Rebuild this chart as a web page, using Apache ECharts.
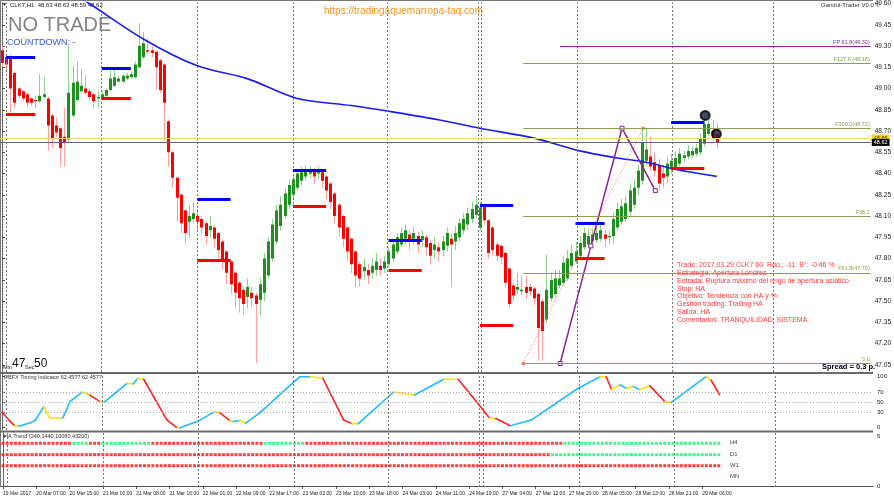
<!DOCTYPE html>
<html><head><meta charset="utf-8">
<script src="https://cdn.jsdelivr.net/npm/echarts@6/dist/echarts.min.js"></script>
<style>html,body{margin:0;padding:0;background:#fff}#c{width:894px;height:500px}</style>
</head><body><div id="c"></div>
<script>
// ---------- DATA ----------
const xLabels = ['19 Mar 2017','20 Mar 07:00','20 Mar 15:00','21 Mar 00:00','21 Mar 08:00','21 Mar 16:00','22 Mar 01:00','22 Mar 09:00','22 Mar 17:00','23 Mar 02:00','23 Mar 10:00','23 Mar 18:00','24 Mar 03:00','24 Mar 11:00','24 Mar 19:00','27 Mar 04:00','27 Mar 12:00','27 Mar 20:00','28 Mar 05:00','28 Mar 13:00','28 Mar 21:00','29 Mar 06:00'];
const yTicks = [47.05,47.20,47.35,47.50,47.65,47.80,47.95,48.10,48.25,48.40,48.55,48.70,48.85,49.00,49.15,49.30,49.45,49.60];

const haOpen  = [49.27,49.22,49.22,49.11,49.00,48.98,48.96,48.93,48.92,48.91,48.94,48.93,48.81,48.74,48.72,48.66,48.64,48.81,48.92,48.98,49.00,48.98,48.96,48.93,48.93,48.95,48.99,49.02,49.05,49.05,49.07,49.08,49.08,49.15,49.22,49.27,49.27,49.26,49.20,49.17,48.77,48.55,48.37,
48.25,48.14,48.06,48.08,48.10,48.08,48.05,48.00,48.02,47.98,47.92,47.85,47.78,47.70,47.63,47.58,47.53,47.56,47.54,47.51,47.56,47.68,47.80,47.92,48.03,48.10,48.18,48.25,48.30,48.35,48.38,48.40,48.42,48.40,48.41,48.38,48.33,48.26,48.18,48.10,48.02,47.94,47.85,47.76,47.71,47.72,47.70,47.72,47.75,47.73,47.76,47.80,47.85,47.90,47.94,47.97,47.94,47.96,47.93,47.95,47.91,47.86,47.88,47.86,47.89,47.94,47.92,47.95,48.00,48.04,48.08,48.11,
48.02,48.17,48.07,48.02,47.90,47.89,47.84,47.73,47.61,47.58,47.57,47.60,47.60,47.59,47.55,47.50,47.37,47.52,47.55,47.61,47.63,47.66,47.75,47.78,47.82,47.88,47.90,47.92,47.93,47.94,47.97,47.95,47.96,48.02,48.06,48.08,48.13,48.18,48.30,48.35,48.49,48.52,48.48,48.46,48.40,48.38,48.44,48.44,48.47,48.51,48.52,48.53,48.54,48.55,48.61,48.68,48.70,48.68];
const haClose = [49.18,49.17,49.00,48.90,48.95,48.93,48.90,48.90,48.91,48.95,48.96,48.74,48.65,48.69,48.58,48.62,48.97,49.04,49.05,49.02,48.97,48.94,48.91,48.94,48.96,48.99,49.07,49.08,49.07,49.09,49.09,49.10,49.17,49.30,49.32,49.26,49.25,49.15,48.99,48.90,48.55,48.37,48.23,
48.05,47.98,48.10,48.12,48.06,48.02,47.96,48.03,47.94,47.86,47.78,47.70,47.62,47.56,47.52,47.48,47.60,47.52,47.48,47.62,47.80,47.92,48.04,48.14,48.18,48.26,48.32,48.36,48.40,48.41,48.42,48.43,48.38,48.42,48.35,48.28,48.20,48.10,48.02,47.94,47.85,47.76,47.68,47.66,47.74,47.68,47.75,47.78,47.72,47.78,47.85,47.90,47.95,47.98,48.00,47.92,47.98,47.90,47.96,47.88,47.82,47.90,47.85,47.92,47.98,47.90,47.98,48.05,48.08,48.12,48.15,48.18,
48.16,48.07,47.84,47.86,47.82,47.81,47.63,47.48,47.54,47.60,47.58,47.56,47.57,47.52,47.31,47.29,47.58,47.65,47.66,47.66,47.77,47.80,47.84,47.85,47.91,47.98,47.96,47.97,47.98,48.00,47.94,47.96,48.08,48.15,48.17,48.19,48.28,48.30,48.42,48.62,48.57,48.45,48.42,48.33,48.37,48.47,48.49,48.51,48.54,48.53,48.56,48.56,48.58,48.65,48.75,48.75,48.65,48.62];
const haHigh  = [49.30,49.24,49.24,49.12,49.01,48.99,48.97,48.94,48.95,49.10,49.08,48.94,48.82,48.79,48.73,48.86,49.30,49.16,49.19,49.14,49.10,49.00,48.97,48.99,48.98,49.00,49.14,49.13,49.09,49.10,49.11,49.12,49.19,49.46,49.40,49.35,49.30,49.27,49.21,49.18,48.78,48.56,48.38,
48.26,48.15,48.18,48.20,48.15,48.10,48.06,48.10,48.03,47.99,47.93,47.86,47.79,47.71,47.64,47.60,47.66,47.60,47.56,47.66,47.84,47.95,48.08,48.18,48.24,48.30,48.36,48.40,48.43,48.45,48.46,48.45,48.44,48.45,48.43,48.39,48.34,48.27,48.19,48.11,48.03,47.95,47.86,47.78,47.80,47.76,47.80,47.84,47.80,47.82,47.88,47.93,47.98,48.02,48.04,48.00,48.02,47.99,48.00,47.97,47.93,47.95,47.92,47.96,48.02,47.98,48.03,48.08,48.12,48.16,48.20,48.24,
48.20,48.19,48.08,48.03,47.92,47.90,47.85,47.74,47.63,47.70,47.68,47.68,47.62,47.60,47.56,47.51,47.83,47.70,47.72,47.72,47.82,47.86,47.90,47.92,47.96,48.02,48.01,48.01,48.02,48.04,48.00,48.00,48.12,48.20,48.22,48.24,48.33,48.36,48.46,48.72,48.72,48.66,48.55,48.50,48.46,48.52,48.54,48.56,48.58,48.56,48.60,48.59,48.61,48.68,48.81,48.80,48.78,48.76];
const haLow   = [49.15,49.12,48.83,48.86,48.93,48.91,48.87,48.88,48.86,48.90,48.93,48.56,48.58,48.66,48.45,48.45,48.62,48.80,48.91,48.97,48.96,48.92,48.86,48.86,48.92,48.94,48.98,49.01,49.04,49.04,49.06,49.07,49.07,49.14,49.21,49.24,49.22,48.99,48.97,48.65,48.45,48.30,48.06,
47.98,47.90,47.95,48.05,48.00,47.97,47.90,47.95,47.88,47.80,47.72,47.62,47.55,47.45,47.42,47.40,47.45,47.46,47.06,47.40,47.50,47.66,47.78,47.90,48.00,48.08,48.15,48.22,48.28,48.32,48.35,48.37,48.33,48.36,48.30,48.22,48.15,48.05,47.96,47.88,47.78,47.70,47.60,47.60,47.65,47.62,47.66,47.68,47.68,47.70,47.74,47.78,47.83,47.88,47.90,47.86,47.90,47.84,47.88,47.82,47.76,47.80,47.78,47.82,47.85,47.60,47.86,47.92,47.97,48.00,48.05,48.08,
48.00,48.04,47.80,47.82,47.78,47.76,47.60,47.45,47.50,47.55,47.54,47.52,47.54,47.47,47.08,47.08,47.35,47.50,47.53,47.59,47.61,47.64,47.73,47.76,47.80,47.86,47.88,47.90,47.91,47.92,47.88,47.90,47.90,48.00,48.04,48.06,48.10,48.15,48.25,48.32,48.46,48.42,48.38,48.28,48.30,48.33,48.40,48.42,48.45,48.48,48.50,48.51,48.52,48.53,48.59,48.66,48.62,48.58];

const maPts = [[0,49.98],[10,49.80],[21,49.60],[34,49.35],[47,49.16],[59,49.07],[71,48.93],[84,48.88],[95,48.83],[105,48.78],[115,48.72],[128,48.65],[139,48.56],[148,48.51],[155,48.48],[162,48.43],[172,48.38]];

const sessStart = [1,24,47,70,93,115,138,161];
const sessEnd   = [8,31,55,78,101,123,145,169];
const sessHigh  = [49.22,49.14,48.22,48.42,47.93,48.18,48.05,48.76];
const sessLow   = [48.82,48.93,47.79,48.17,47.72,47.33,47.80,48.44];

const fibLevels = [49.30,49.18,48.72,48.10,47.70,47.06];
const fibNames  = ['FP 61.8(49.30)','F127.6 (49.18)','F100.0(48.72)','F38.2','F61.8(47.70)','0.0'];
const fibStart  = [134.3,125.4,125.4,125.4,125.4,125.4];

const zigzag = [[134.3,47.06],[141.7,47.89],[149.2,48.72],[157.2,48.28]];
const dottedLine = [[125.4,47.06],[154.3,48.72]];
const targets = [[169.2,48.81],[171.9,48.68]];

const separators = [1,24,47,70,92.6,114.5,115.4,138.5,161.2,185.5];
const priceLast = 48.62, priceAsk = 48.65;

const rbfxPts = [[0,30],[2,12],[3,4],[4,3],[7,10],[8,15],[10,41],[11.5,19],[14.6,19],[16.3,51],[19.2,70],[21.1,64],[23.5,51],[24.7,51],[30,87],[31.5,86],[32.6,97],[34,95],[39.6,15],[42,0],[42.7,0],[46.8,12],[51,31],[52.3,29],[54.7,14],[55.5,12],[57,14],[58.5,9],[62,30],[66,60],[71.5,100],[74,100],[77,97],[82,15],[84,8],[85.5,8],[94,70],[99,64],[106,95],[109.5,95],[117,19],[118.5,18],[122,4],[127,15],[133,48],[138,76],[143.5,100],[145,100],[146.3,75],[148.3,84],[149.9,77],[151.5,81],[153,75],[155.5,82],[159.1,51],[160.7,50],[169,100],[170.2,93],[172.2,65]];
const rbfxCol = 'rrybbbyybb' + 'yrybybyrry' + 'bbyrybybbb' + 'byrrybybyr' + 'yrbbbbyryb' + 'ybyrybyr';

const haRows = ['H4','D1','W1','MN'];
const haRowLevel = [4.27,3.13,2.03,1.0];
const h4Runs = [[0,16,'r'],[17,20,'g'],[21,23,'r'],[24,35,'g'],[36,62,'r'],[63,72,'g'],[73,134,'r'],[135,172,'g']];
const d1Runs = [[0,131,'r'],[132,172,'g']];
const w1Runs = [[0,172,'r']];

// ---------- BUILD ----------
const XMIN = -0.48, XMAX = 209.04;
const candleData = haOpen.map((o,i)=>[i,o,haClose[i],haLow[i],haHigh[i]]);
const rbfxSegs = [];
for (let k=0;k<rbfxPts.length-1;k++) rbfxSegs.push([rbfxPts[k][0],rbfxPts[k][1],rbfxPts[k+1][0],rbfxPts[k+1][1],rbfxCol[k]||'b']);
const segColor = {b:'#1ebcff', y:'#ffe000', r:'#ff2020'};
function runsToDots(runs, level){ const out=[]; runs.forEach(r=>{for(let i=r[0];i<=r[1];i++) out.push({value:[i,level],itemStyle:{color:r[2]==='g'?'#22ee77':'#ff1010'}});}); return out; }
const dots = [].concat(runsToDots(h4Runs,haRowLevel[0]), runsToDots(d1Runs,haRowLevel[1]), runsToDots(w1Runs,haRowLevel[2]));

const sepLine = gi => ({type:'line', xAxisIndex:gi, yAxisIndex:gi, data:[], silent:true,
  markLine:{silent:true, symbol:'none', animation:false, label:{show:false},
    lineStyle:{color:'#777', type:[2,2], width:1}, data: separators.map(v=>({xAxis:v}))}});

const FONT = '"Liberation Sans", Arial, sans-serif';

const option = {
  animation:false,
  backgroundColor:'#ffffff',
  grid:[
    {left:0, right:21, top:1, height:371},
    {left:0, right:21, top:374, height:56},
    {left:0, right:21, top:432, height:55}
  ],
  xAxis:[0,1,2].map(gi=>({
    type:'value', gridIndex:gi, min:XMIN, max:XMAX,
    axisLine:{show:gi===2, lineStyle:{color:'#555'}},
    axisTick:{show:gi===2, length:3, customValues: xLabels.map((_,k)=>k*8), lineStyle:{color:'#555'}},
    axisLabel:{show:gi===2, customValues: xLabels.map((_,k)=>k*8), formatter:v=>xLabels[Math.round(v/8)]||'', align:'left', fontSize:5, color:'#222', fontFamily:FONT, margin:4},
    splitLine:{show:false}
  })),
  yAxis:[
    {type:'value', gridIndex:0, position:'right', min:47.0, max:49.607,
     axisLine:{show:true, lineStyle:{color:'#666'}},
     axisTick:{show:true, length:3, customValues:yTicks, lineStyle:{color:'#444'}},
     axisLabel:{customValues:yTicks, formatter:v=>v.toFixed(2), fontSize:6.5, color:'#222', fontFamily:FONT, margin:4},
     splitLine:{show:false}},
    {type:'value', gridIndex:1, position:'right', min:-4.5, max:105.3,
     axisLine:{show:true, lineStyle:{color:'#666'}},
     axisTick:{show:true, length:3, customValues:[0,30,50,70,100], lineStyle:{color:'#444'}},
     axisLabel:{customValues:[0,30,50,70,100], fontSize:6, color:'#222', fontFamily:FONT, margin:4},
     splitLine:{show:false}},
    {type:'value', gridIndex:2, position:'right', min:-0.1, max:5.4,
     axisLine:{show:true, lineStyle:{color:'#666'}},
     axisTick:{show:true, length:3, customValues:[0,5], lineStyle:{color:'#444'}},
     axisLabel:{customValues:[0,5], fontSize:6, color:'#222', fontFamily:FONT, margin:4},
     splitLine:{show:false}}
  ],
  series:[
    sepLine(0), sepLine(1), sepLine(2),
    {type:'line', xAxisIndex:0, yAxisIndex:0, data:[], silent:true,
     markLine:{silent:true, symbol:'none', animation:false,
       data: fibLevels.map((lv,k)=>[
         {coord:[fibStart[k],lv], lineStyle:{color:k===0?'#9a1f9a':'#8aa04c', width:1.2, type:'solid'},
          label:{show:true, position:'insideEndTop', formatter:fibNames[k], fontSize:5.5, color:k===0?'#9a1f9a':'#8aa04c', fontFamily:FONT, distance:[1,1]}},
         {coord:[XMAX,lv]}])
       .concat([
         {yAxis:priceAsk, lineStyle:{color:'#f3d77a', width:1, type:'solid'}, label:{show:true, position:'end', formatter:priceAsk.toFixed(2), backgroundColor:'#ffd400', color:'#444', fontSize:5.5, padding:[1,2,0,2], distance:1, fontFamily:FONT}},
         {yAxis:priceLast, lineStyle:{color:'#666', width:1, type:'solid'}, label:{show:true, position:'end', formatter:priceLast.toFixed(2), backgroundColor:'#000', color:'#fff', fontSize:5.5, padding:[1,2,0,2], distance:1, fontFamily:FONT}}
       ])}},
    {type:'line', xAxisIndex:0, yAxisIndex:0, data:[], silent:true,
     markLine:{silent:true, symbol:'none', animation:false, label:{show:false},
       data: sessStart.map((s,k)=>[{coord:[s,sessHigh[k]], lineStyle:{color:'#0000ff', width:3, type:'solid'}},{coord:[sessEnd[k],sessHigh[k]]}])
        .concat(sessStart.map((s,k)=>[{coord:[s,sessLow[k]], lineStyle:{color:'#ff0000', width:3, type:'solid'}},{coord:[sessEnd[k],sessLow[k]]}]))}},
    {type:'line', xAxisIndex:0, yAxisIndex:0, data:maPts, smooth:0.3, showSymbol:false, clip:true,
     lineStyle:{color:'#1a1aff', width:1.6}},
    {type:'custom', xAxisIndex:0, yAxisIndex:0, data:candleData, clip:true,
     encode:{x:0, y:[1,2,3,4]},
     renderItem:(params, api)=>{
       const i=api.value(0), o=api.value(1), c=api.value(2), l=api.value(3), h=api.value(4);
       const pO=api.coord([i,o]), pC=api.coord([i,c]), pL=api.coord([i,l]), pH=api.coord([i,h]);
       const up = c>=o;
       const x = Math.round(pO[0]);
       const top = Math.min(pO[1],pC[1]);
       return {type:'group', children:[
         {type:'line', shape:{x1:x+0.5,y1:pH[1],x2:x+0.5,y2:pL[1]}, style:{stroke:up?'#8ed08e':'#ffa0a0', lineWidth:1}},
         {type:'rect', shape:{x:x-1, y:top, width:3, height:Math.max(1,Math.abs(pO[1]-pC[1]))}, style:{fill:up?'#1f8f1f':'#ff0000'}}
       ]};
     }},
    {type:'line', xAxisIndex:0, yAxisIndex:0, data:dottedLine, showSymbol:true, symbol:'rect', symbolSize:3,
     itemStyle:{color:'#ff7050'}, lineStyle:{color:'#ff6060', width:1, type:[1,2]}},
    {type:'line', xAxisIndex:0, yAxisIndex:0, data:zigzag, showSymbol:true, symbol:'rect', symbolSize:4,
     itemStyle:{color:'#ffffff', borderColor:'#8e1e9a', borderWidth:1}, lineStyle:{color:'#8e1e9a', width:1.5}},
    {type:'scatter', xAxisIndex:0, yAxisIndex:0, data:targets, symbol:'circle', symbolSize:9,
     itemStyle:{color:'#1a1a3a', borderColor:'#000', borderWidth:2}},
    {type:'line', xAxisIndex:1, yAxisIndex:1, data:[], silent:true,
     markLine:{silent:true, symbol:'none', animation:false, label:{show:false},
       lineStyle:{color:'#aaa', type:[1,2], width:1}, data:[{yAxis:30},{yAxis:50},{yAxis:70}]}},
    {type:'custom', xAxisIndex:1, yAxisIndex:1, data:rbfxSegs, clip:true,
     encode:{x:[0,2], y:[1,3]},
     renderItem:(params, api)=>{
       const a=api.coord([api.value(0),api.value(1)]), b=api.coord([api.value(2),api.value(3)]);
       const col = segColor[rbfxSegs[params.dataIndex][4]];
       return {type:'line', shape:{x1:a[0],y1:a[1],x2:b[0],y2:b[1]}, style:{stroke:col, lineWidth:1.6, lineCap:'round'}};
     }},
    {type:'scatter', xAxisIndex:2, yAxisIndex:2, data:dots, symbol:'rect', symbolSize:[3,3]}
  ],
  graphic:[
    {type:'line', shape:{x1:0,y1:0.5,x2:873,y2:0.5}, style:{stroke:'#777', lineWidth:1}},
    {type:'line', shape:{x1:0.5,y1:0,x2:0.5,y2:487}, style:{stroke:'#777', lineWidth:1}},
    {type:'rect', shape:{x:0,y:372,width:873,height:2}, style:{fill:'#6a6a6a'}},
    {type:'rect', shape:{x:0,y:430.5,width:873,height:2}, style:{fill:'#6a6a6a'}},
    {type:'text', left:2, top:2, style:{text:'▼', fill:'#222', font:'5px '+FONT}},
    {type:'text', left:10, top:2, style:{text:'CLK7,H1  48.63 48.63 48.59 48.62', fill:'#222', font:'6px '+FONT}},
    {type:'text', left:8, top:15, style:{text:'NO TRADE', fill:'#858585', font:'20px '+FONT}},
    {type:'text', left:7, top:38, style:{text:'COUNTDOWN: -', fill:'#3b5bdb', font:'9px '+FONT}},
    {type:'text', left:324, top:6, style:{text:'https://tradingaquemarropa-taq.com', fill:'#f7931e', font:'10px '+FONT}},
    {type:'text', left:821, top:2, style:{text:'Gandul-Trader V0.0 ©', fill:'#333', font:'6px '+FONT}},
    {type:'text', left:677, top:261, style:{text:[
      'Trade: 2017.03.29 CLK7 60  Rdo.: -11  B°: -0.46 %',
      'Estrategia: Apertura Londres',
      'Entrada: Ruptura máximo del reigo de apertura asiático',
      'Stop: HA',
      'Objetivo: Tendencia con HA y %',
      'Gestión trading: Trailing HA',
      'Salida: HA',
      'Comentarios: TRANQUILIDAD. SISTEMA'].join('\n'), fill:'#ff3838', font:'7px '+FONT, lineHeight:7.9}},
    {type:'text', left:3, top:364, style:{text:'Min', fill:'#222', font:'5.5px '+FONT}},
    {type:'text', left:12, top:358, style:{text:'47', fill:'#111', font:'12px '+FONT}},
    {type:'text', left:25, top:364, style:{text:'Sec', fill:'#222', font:'5.5px '+FONT}},
    {type:'text', left:34, top:358, style:{text:'50', fill:'#111', font:'12px '+FONT}},
    {type:'text', left:822, top:363, style:{text:'Spread = 0.3 p.', fill:'#000', font:'bold 7.5px '+FONT}},
    {type:'text', left:4, top:374, style:{text:'RBFX Timing Indicator 62.4577 62.4577', fill:'#333', font:'5.5px '+FONT}},
    {type:'text', left:4, top:433, style:{text:'HA Trend (240,1440,10080,43200)', fill:'#333', font:'5.5px '+FONT}},
    {type:'text', left:730, top:439, style:{text:'H4', fill:'#444', font:'6px '+FONT}},
    {type:'text', left:730, top:451, style:{text:'D1', fill:'#444', font:'6px '+FONT}},
    {type:'text', left:730, top:462, style:{text:'W1', fill:'#444', font:'6px '+FONT}},
    {type:'text', left:730, top:473, style:{text:'MN', fill:'#444', font:'6px '+FONT}}
  ]
};
const chart = echarts.init(document.getElementById('c'));
chart.setOption(option);
</script>
</body></html>
